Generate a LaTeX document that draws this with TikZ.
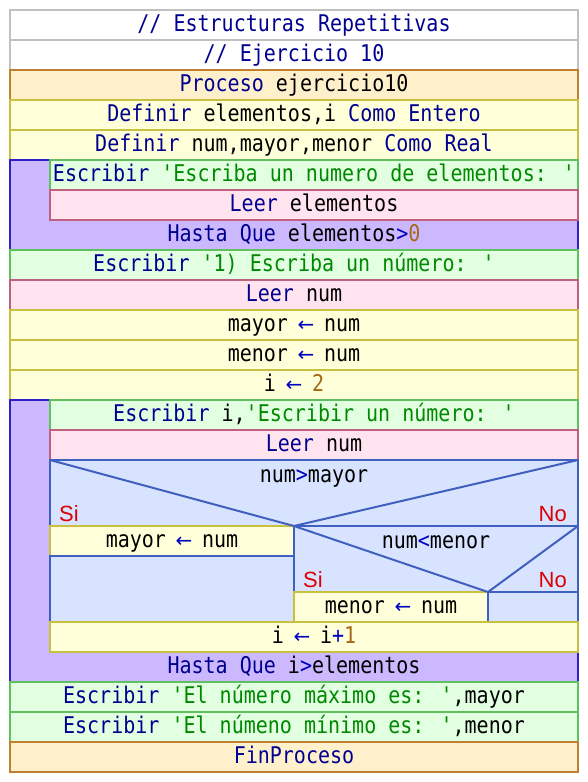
\documentclass[tikz,border=0pt]{standalone}
\usepackage{fontspec}
\newfontfamily\codefont{DejaVu Sans Mono}[FakeStretch=0.87]
\newfontfamily\arrowfont{DejaVu Sans}
\newfontfamily\labelfont{Liberation Sans}

% syntax colours
\definecolor{kwcol}{HTML}{000090}
\definecolor{strcol}{HTML}{008800}
\definecolor{numcol}{HTML}{A86818}
\definecolor{opcol}{HTML}{0000C0}
\definecolor{sinocol}{HTML}{DD0000}
% block colours
\definecolor{commline}{HTML}{C0C0C0}
\definecolor{procfill}{HTML}{FFF0CC}
\definecolor{procline}{HTML}{C08030}
\definecolor{deffill}{HTML}{FFFFDA}
\definecolor{defline}{HTML}{C8C040}
\definecolor{escfill}{HTML}{E2FFE2}
\definecolor{escline}{HTML}{60C060}
\definecolor{leerfill}{HTML}{FFE4F0}
\definecolor{leerline}{HTML}{C06080}
\definecolor{loopfill}{HTML}{CCB8FF}
\definecolor{loopline}{HTML}{3020C8}
\definecolor{iffill}{HTML}{D8E4FF}
\definecolor{ifline}{HTML}{4060C0}

\newcommand{\kwd}[1]{\textcolor{kwcol}{#1}}
\newcommand{\strg}[1]{\textcolor{strcol}{#1}}
\newcommand{\nmb}[1]{\textcolor{numcol}{#1}}
\newcommand{\opr}[1]{\textcolor{opcol}{#1}}
% assignment arrow, kept to one character cell
\newcommand{\asg}{\makebox[12pt]{\textcolor{opcol}{\arrowfont\fontsize{20pt}{24pt}\selectfont ←}}}

\tikzset{
  codefontset/.style={font=\codefont\fontsize{23pt}{27pt}\selectfont},
  rowbox/.style={rectangle, outer sep=0pt, inner sep=0pt, minimum height=30pt,
    text height=15pt, text depth=3pt, line width=2pt, anchor=north west,
    codefontset},
  comm/.style={rowbox, fill=white, draw=commline},
  proc/.style={rowbox, fill=procfill, draw=procline},
  defn/.style={rowbox, fill=deffill, draw=defline},
  esc/.style={rowbox, fill=escfill, draw=escline},
  leer/.style={rowbox, fill=leerfill, draw=leerline},
  loopbox/.style={rectangle, outer sep=0pt, inner sep=0pt, line width=2pt,
    anchor=north west, fill=loopfill, draw=loopline},
  ifbox/.style={rectangle, outer sep=0pt, inner sep=0pt, line width=2pt,
    anchor=north west, fill=iffill, draw=ifline},
  iflink/.style={line width=2pt, draw=ifline},
  codetext/.style={inner sep=0pt, anchor=base, codefontset},
  sino/.style={inner sep=0pt, text=sinocol, font=\labelfont\fontsize{22pt}{26pt}\selectfont},
}

\begin{document}
\begin{tikzpicture}[x=1pt, y=-1pt]
\useasboundingbox (0,0) rectangle (588,782);

% header and declarations
\node[comm, minimum width=568pt] (c1) at (10,10) {\kwd{// Estructuras Repetitivas}};
\node[comm, minimum width=568pt] (c2) at (10,40) {\kwd{// Ejercicio 10}};
\node[proc, minimum width=568pt] (p1) at (10,70) {\kwd{Proceso} ejercicio10};
\node[defn, minimum width=568pt] (d1) at (10,100) {\kwd{Definir} elementos,i \kwd{Como Entero}};
\node[defn, minimum width=568pt] (d2) at (10,130) {\kwd{Definir} num,mayor,menor \kwd{Como Real}};

% first repeat loop
\node[loopbox, minimum width=568pt, minimum height=90pt] (r1) at (10,160) {};
\node[esc, minimum width=528pt] (r1a) at (50,160) {\kwd{Escribir} \strg{'Escriba un numero de elementos: '}};
\node[leer, minimum width=528pt] (r1b) at (50,190) {\kwd{Leer} elementos};
\node[codetext] (r1u) at ([yshift=9pt]r1.south) {\kwd{Hasta Que} elementos\opr{>}\nmb{0}};

% initial reads and assignments
\node[esc, minimum width=568pt] (e1) at (10,250) {\kwd{Escribir} \strg{'1) Escriba un número: '}};
\node[leer, minimum width=568pt] (l1) at (10,280) {\kwd{Leer} num};
\node[defn, minimum width=568pt] (a1) at (10,310) {mayor \asg{} num};
\node[defn, minimum width=568pt] (a2) at (10,340) {menor \asg{} num};
\node[defn, minimum width=568pt] (a3) at (10,370) {i \asg{} \nmb{2}};

% second repeat loop
\node[loopbox, minimum width=568pt, minimum height=282pt] (r2) at (10,400) {};
\node[esc, minimum width=528pt] (r2a) at (50,400) {\kwd{Escribir} i,\strg{'Escribir un número: '}};
\node[leer, minimum width=528pt] (r2b) at (50,430) {\kwd{Leer} num};

% outer decision: num>mayor
\node[ifbox, minimum width=528pt, minimum height=162pt] (if1) at (50,460) {};
\node[ifbox, minimum width=528pt, minimum height=66pt] (q1) at (50,460) {};
\node[defn, minimum width=244pt] (m1) at (50,526) {mayor \asg{} num};
\node[ifbox, minimum width=244pt, minimum height=66pt] (f1) at (50,556) {};

% inner decision: num<menor
\node[ifbox, minimum width=284pt, minimum height=66pt] (q2) at (294,526) {};
\node[defn, minimum width=194pt] (m2) at (294,592) {menor \asg{} num};
\node[ifbox, minimum width=90pt, minimum height=30pt] (f2) at (488,592) {};

\draw[iflink] (q1.north west) -- (m1.north east) -- (q1.north east);
\draw[iflink] (q2.north west) -- (m2.north east) -- (q2.north east);
\draw[iflink] (if1.north west) -- (if1.north east);

\node[codetext] (q1t) at ([yshift=-22pt]q1.north) {num\opr{>}mayor};
\node[codetext] (q2t) at ([yshift=-22pt]q2.north) {num\opr{<}menor};
\node[sino, anchor=base west] (q1s) at ([xshift=9pt, yshift=5pt]q1.south west) {Si};
\node[sino, anchor=base east] (q1n) at ([xshift=-11pt, yshift=5pt]q1.south east) {No};
\node[sino, anchor=base west] (q2s) at ([xshift=9pt, yshift=5pt]q2.south west) {Si};
\node[sino, anchor=base east] (q2n) at ([xshift=-11pt, yshift=5pt]q2.south east) {No};

\node[defn, minimum width=528pt] (a4) at (50,622) {i \asg{} i\opr{+}\nmb{1}};
\node[codetext] (r2u) at ([yshift=9pt]r2.south) {\kwd{Hasta Que} i\opr{>}elementos};

% results and end
\node[esc, minimum width=568pt] (e2) at (10,682) {\kwd{Escribir} \strg{'El número máximo es: '},mayor};
\node[esc, minimum width=568pt] (e3) at (10,712) {\kwd{Escribir} \strg{'El númeno mínimo es: '},menor};
\node[proc, minimum width=568pt] (p2) at (10,742) {\kwd{FinProceso}};
\end{tikzpicture}
\end{document}
